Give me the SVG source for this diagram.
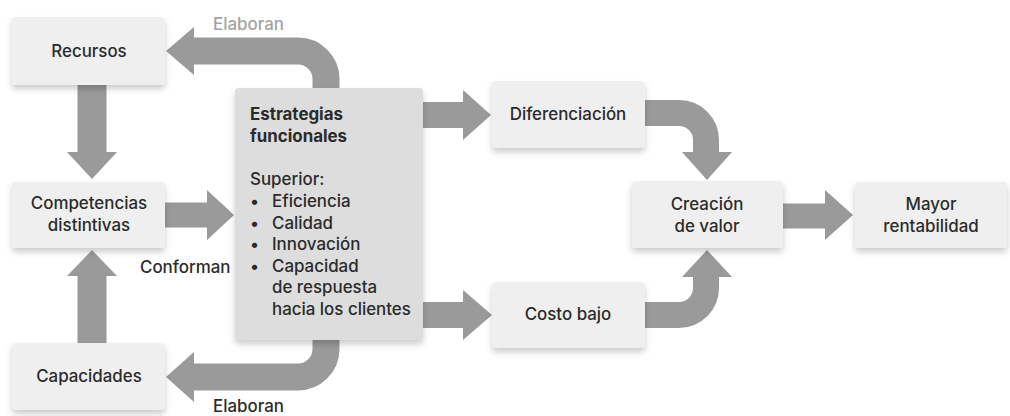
<svg xmlns="http://www.w3.org/2000/svg" width="1010" height="416" viewBox="0 0 1010 416">
<defs>
<filter id="sh" x="-20%" y="-20%" width="140%" height="150%">
<feDropShadow dx="0" dy="4" stdDeviation="3" flood-color="#000" flood-opacity="0.2"/>
</filter>
<style>
.box{fill:#efefef;filter:url(#sh)}
.box2{fill:#dddddd;filter:url(#sh)}
.t{font-family:Inter,"Liberation Sans",Arial,sans-serif;font-size:16.9px;font-weight:500;fill:#2b2b2b;text-anchor:middle}
.tl{font-family:Inter,"Liberation Sans",Arial,sans-serif;font-size:16.9px;font-weight:500;fill:#2b2b2b}
.tb{font-weight:700}
.lbl{font-family:Inter,"Liberation Sans",Arial,sans-serif;font-size:16.9px;font-weight:500;fill:#2b2b2b}
.lbl2{fill:#a3a3a3}
.shaft{fill:none;stroke:#999a99;stroke-width:27}
.head{fill:#999a99}
</style>
</defs>
<rect width="1010" height="416" fill="#ffffff"/>
<g id="connectors">
<path class="shaft" d="M326,92 V79 A28,28 0 0 0 298,51 H192"/>
<polygon class="head" points="194,27 166,51 194,75"/>
<path class="shaft" d="M326,336 V349 A28,28 0 0 1 298,377 H192"/>
<polygon class="head" points="194,352 166,377 194,402"/>
<path class="shaft" d="M92,84 V153" style="stroke-width:29"/>
<polygon class="head" points="67,152 92,179 117,152"/>
<path class="shaft" d="M92,345 V275" style="stroke-width:29"/>
<polygon class="head" points="67,276 92,250 117,276"/>
<path class="shaft" d="M163,215 H208" style="stroke-width:25"/>
<polygon class="head" points="207,190 234,215 207,240"/>
<path class="shaft" d="M421,115 H464" style="stroke-width:26"/>
<polygon class="head" points="463,90 491,115 463,140"/>
<path class="shaft" d="M421,315 H464" style="stroke-width:26"/>
<polygon class="head" points="463,290 492,315 463,340"/>
<path class="shaft" d="M641,113 H679 A27,27 0 0 1 706,140 V153" style="stroke-width:26"/>
<polygon class="head" points="682,152 707,180 732,152"/>
<path class="shaft" d="M641,315 H679 A27,27 0 0 0 706,288 V276" style="stroke-width:26"/>
<polygon class="head" points="682,277 707,250 732,277"/>
<path class="shaft" d="M781,216 H826" style="stroke-width:25"/>
<polygon class="head" points="825,190 853,215 825,240"/>
</g>
<g id="label-elaboran-top"><text class="lbl lbl2" x="213" y="30">Elaboran</text></g>
<g id="label-elaboran-bottom"><text class="lbl" x="213" y="412">Elaboran</text></g>
<g id="label-conforman"><text class="lbl" x="140" y="273">Conforman</text></g>
<g id="recursos">
<rect class="box" x="12" y="17" width="153" height="68" rx="4"/>
<text class="t" x="89" y="57">Recursos</text>
</g>
<g id="competencias">
<rect class="box" x="12" y="182" width="153" height="66" rx="4"/>
<text class="t" x="89" y="209">Competencias</text>
<text class="t" x="89" y="231">distintivas</text>
</g>
<g id="capacidades">
<rect class="box" x="12" y="343" width="153" height="67" rx="4"/>
<text class="t" x="89" y="382">Capacidades</text>
</g>
<g id="estrategias">
<rect class="box2" x="235" y="88" width="188" height="252" rx="4"/>
<text class="tl tb" x="250" y="120">Estrategias</text>
<text class="tl tb" x="250" y="142">funcionales</text>
<text class="tl" x="250" y="185">Superior:</text>
<text class="tl" x="250" y="207">•</text><text class="tl" x="272" y="207">Eficiencia</text>
<text class="tl" x="250" y="229">•</text><text class="tl" x="272" y="229">Calidad</text>
<text class="tl" x="250" y="250">•</text><text class="tl" x="272" y="250">Innovación</text>
<text class="tl" x="250" y="272">•</text><text class="tl" x="272" y="272">Capacidad</text>
<text class="tl" x="272" y="293">de respuesta</text>
<text class="tl" x="272" y="315">hacia los clientes</text>
</g>
<g id="diferenciacion">
<rect class="box" x="492" y="81" width="153" height="67" rx="4"/>
<text class="t" x="568" y="120">Diferenciación</text>
</g>
<g id="costo-bajo">
<rect class="box" x="492" y="282" width="153" height="66" rx="4"/>
<text class="t" x="568" y="320">Costo bajo</text>
</g>
<g id="creacion">
<rect class="box" x="632" y="181" width="151" height="67" rx="4"/>
<text class="t" x="707" y="210">Creación</text>
<text class="t" x="707" y="232">de valor</text>
</g>
<g id="mayor">
<rect class="box" x="855" y="182" width="152" height="66" rx="4"/>
<text class="t" x="931" y="210">Mayor</text>
<text class="t" x="931" y="232">rentabilidad</text>
</g>
</svg>
